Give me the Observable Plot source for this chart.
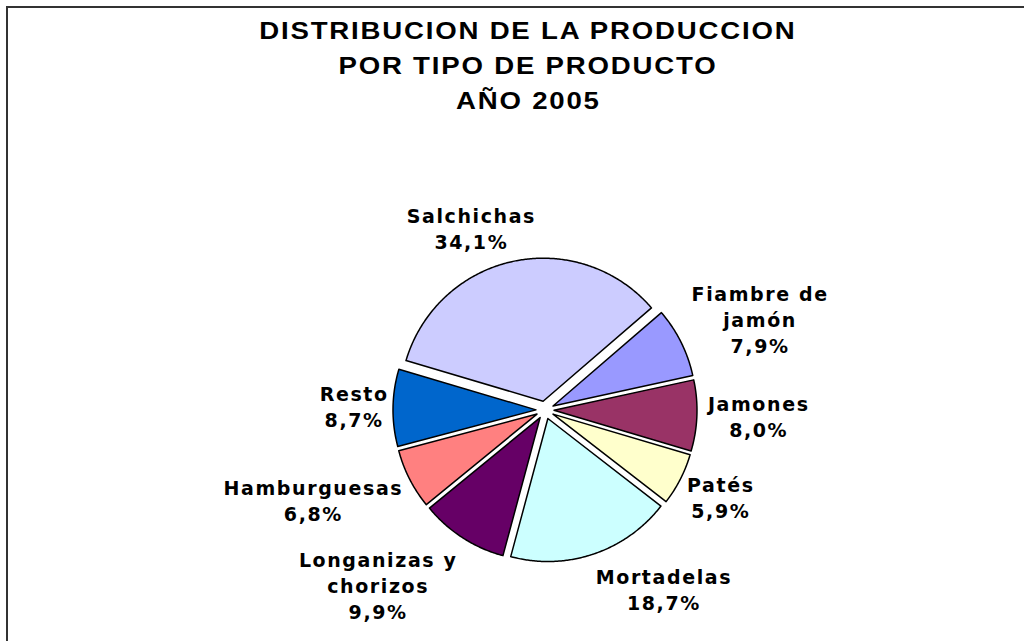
<!DOCTYPE html>
<html>
<head>
<meta charset="utf-8">
<script src="https://cdn.jsdelivr.net/npm/d3@7"></script>
<script src="https://cdn.jsdelivr.net/npm/@observablehq/plot@0.6"></script>
<style>
  html, body { margin: 0; padding: 0; background: #fff; width: 1024px; height: 641px; overflow: hidden; }
  #frame { position: absolute; left: 6px; top: 6px; width: 1100px; height: 700px;
           border-left: 2px solid #333; border-top: 2px solid #333; pointer-events: none; }
  #title { box-sizing: border-box; width: 1024px; height: 130px; padding: 14px 0 0 32px;
           text-align: center; font-family: "Liberation Sans", Arial, sans-serif; font-weight: bold;
           font-size: 23px; line-height: 35px; letter-spacing: 1.5px; color: #000; }
  #title div { height: 35px; }
  #title span { display: inline-block; transform: scaleX(1.2); transform-origin: 50% 50%; white-space: nowrap; }
  #chart svg { display: block; }
</style>
</head>
<body>
<div id="frame"></div>
<div id="title">
  <div><span>DISTRIBUCION DE LA PRODUCCION</span></div>
  <div><span>POR TIPO DE PRODUCTO</span></div>
  <div><span>AÑO 2005</span></div>
</div>
<div id="chart"></div>
<script>
// ---- data ----
const categories = ["Salchichas", "Fiambre de jamón", "Jamones", "Patés", "Mortadelas",
                    "Longanizas y chorizos", "Hamburguesas", "Resto"];
const labelText = ["Salchichas", "Fiambre de\njamón", "Jamones", "Patés", "Mortadelas",
                   "Longanizas y\nchorizos", "Hamburguesas", "Resto"];
const shares = [34.1, 7.9, 8.0, 5.9, 18.7, 9.9, 6.8, 8.7];

// ---- style / layout ----
const palette = ["#CCCCFF", "#9999FF", "#993366", "#FFFFCC", "#CCFFFF", "#660066", "#FF8080", "#0066CC"];
const W = 1024, H = 511;
const CX = 544.5, CY = 279.5;       // pie centre inside the svg (px)
const R = 143, EXPLODE = 9, START = -73.5;
const LABEL_GAP = 11.5, FONT = 19, LINE_H = 26, LS = 1.6;
const nudges = [[-27, 2.5], [13, -1], [4, -1], [3, 0], [47, -1], [-39, 5], [-13, 3], [4, -2]];

const rad = Math.PI / 180;
const arcs = d3.pie().sort(null).value(d => d)
  .startAngle(START * rad).endAngle((START + 360) * rad)(shares);

const fmt = v => v.toFixed(1).replace(".", ",") + "%";

// slice polygons
const slicePts = [];
arcs.forEach((a, i) => {
  const m = (a.startAngle + a.endAngle) / 2;
  const ox = EXPLODE * Math.sin(m), oy = -EXPLODE * Math.cos(m);
  slicePts.push({name: categories[i], x: ox, y: oy});
  const n = Math.max(8, Math.ceil((a.endAngle - a.startAngle) / (0.5 * rad)));
  for (let k = 0; k <= n; k++) {
    const t = a.startAngle + (a.endAngle - a.startAngle) * k / n;
    slicePts.push({name: categories[i], x: ox + R * Math.sin(t), y: oy - R * Math.cos(t)});
  }
});

// labels
const ctx = document.createElement("canvas").getContext("2d");
ctx.font = `bold 18px "DejaVu Sans"`;
const labels = arcs.map((a, i) => {
  const text = labelText[i] + "\n" + fmt(shares[i]);
  const lines = text.split("\n");
  const w = d3.max(lines, l => ctx.measureText(l).width + 1 * l.length);
  const h = lines.length * LINE_H;
  const m = (a.startAngle + a.endAngle) / 2;
  const d = R + EXPLODE + LABEL_GAP;
  const x = d * Math.sin(m) + Math.sin(m) * w / 2 + nudges[i][0];
  const y = -d * Math.cos(m) - Math.cos(m) * h / 2 + nudges[i][1];
  return {text, x, y};
});

const chart = Plot.plot({
  width: W, height: H,
  margin: 0,
  x: {domain: [-CX, W - CX], range: [0, W], axis: null},
  y: {domain: [-CY, H - CY], range: [0, H], axis: null},
  color: {domain: categories, range: palette},
  style: {letterSpacing: LS + "px", background: "transparent"},
  marks: [
    Plot.line(slicePts, {x: "x", y: "y", z: "name", fill: "name", stroke: "#000",
                         strokeWidth: 1.5, curve: "linear-closed", strokeLinejoin: "round"}),
    Plot.text(labels, {x: "x", y: "y", text: "text", fontFamily: "DejaVu Sans",
                       fontWeight: "bold", fontSize: FONT, lineHeight: LINE_H / FONT,
                       textAnchor: "middle", lineAnchor: "middle", fill: "#000"})
  ]
});
document.getElementById("chart").appendChild(chart);
</script>
</body>
</html>
